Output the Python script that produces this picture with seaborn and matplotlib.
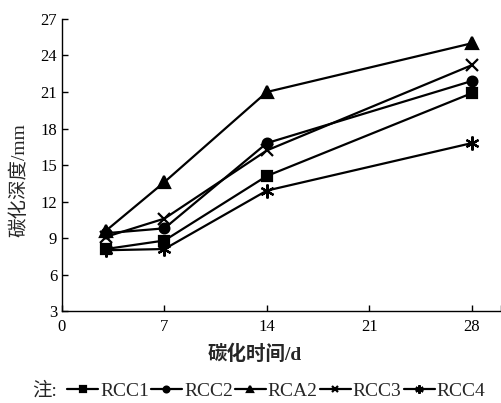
import numpy as np
import pandas as pd
import seaborn as sns
from matplotlib import pyplot as plt

days = [3, 7, 14, 28]
series_names = ["RCC1", "RCC2", "RCA2", "RCC3", "RCC4"]
rcc1 = [8.1, 8.8, 14.1, 20.9]
rcc2 = [9.4, 9.8, 16.8, 21.9]
rca2 = [9.6, 13.6, 21.0, 25.0]
rcc3 = [9.1, 10.6, 16.2, 23.2]
rcc4 = [8.0, 8.1, 12.9, 16.8]
x_ticks = [0, 7, 14, 21, 28, 30]
x_ticklabels = ["0", "7", "14", "21", "28", ""]
y_ticks = [3, 6, 9, 12, 15, 18, 21, 24, 27]

sns.set_style("ticks")
plt.rcParams["font.family"] = ["Liberation Serif", "Noto Sans CJK SC"]
plt.rcParams["axes.unicode_minus"] = False

rows = []
for name, vals in zip(series_names, [rcc1, rcc2, rca2, rcc3, rcc4]):
    for d, v in zip(days, vals):
        rows.append({"day": d, "depth": v, "mix": name})
df = pd.DataFrame(rows)

markers = {"RCC1": "s", "RCC2": "o", "RCA2": "^", "RCC3": "x", "RCC4": (6, 2, 0)}
msizes = {"RCC1": 7, "RCC2": 7, "RCA2": 8, "RCC3": 8, "RCC4": 10}

fig = plt.figure(figsize=(5.02, 4.03), dpi=100)
ax = fig.add_axes([0.1235, 0.228, 0.8745, 0.725])
for name in series_names:
    sns.lineplot(
        ax=ax,
        data=df[df["mix"] == name],
        x="day",
        y="depth",
        color="black",
        marker=markers[name],
        markersize=msizes[name],
        markeredgewidth=1.6,
        markeredgecolor="black",
        linewidth=1.6,
        label=name,
    )

ax.set_xlim(0, 30)
ax.set_ylim(3, 27)
ax.set_xticks(x_ticks)
ax.set_xticklabels(x_ticklabels)
ax.set_yticks(y_ticks)
ax.tick_params(direction="in", length=4, width=1, labelsize=12, colors="black")
ax.tick_params(axis="x", pad=6)
for side in ["top", "right"]:
    ax.spines[side].set_visible(False)
for side in ["left", "bottom"]:
    ax.spines[side].set_linewidth(1)
    ax.spines[side].set_color("black")

ax.set_xlabel("碳化时间/d", fontsize=14, fontweight="bold")
ax.set_ylabel("碳化深度/mm", fontsize=14)
ax.xaxis.set_label_coords(0.44, -0.116)
ax.yaxis.set_label_coords(-0.076, 0.449)

handles, labels = ax.get_legend_handles_labels()
ax.get_legend().remove()
fig.text(0.064, 0.030, "注:", fontsize=14, va="center", ha="left")
fig.legend(
    handles, labels,
    loc="center left",
    bbox_to_anchor=(0.1335, 0.030),
    ncol=5,
    frameon=False,
    fontsize=14,
    handlelength=1.6,
    handletextpad=0.1,
    columnspacing=0.1,
    borderpad=0,
    borderaxespad=0,
    markerscale=0.6,
)

plt.savefig("out.png", dpi=100)
